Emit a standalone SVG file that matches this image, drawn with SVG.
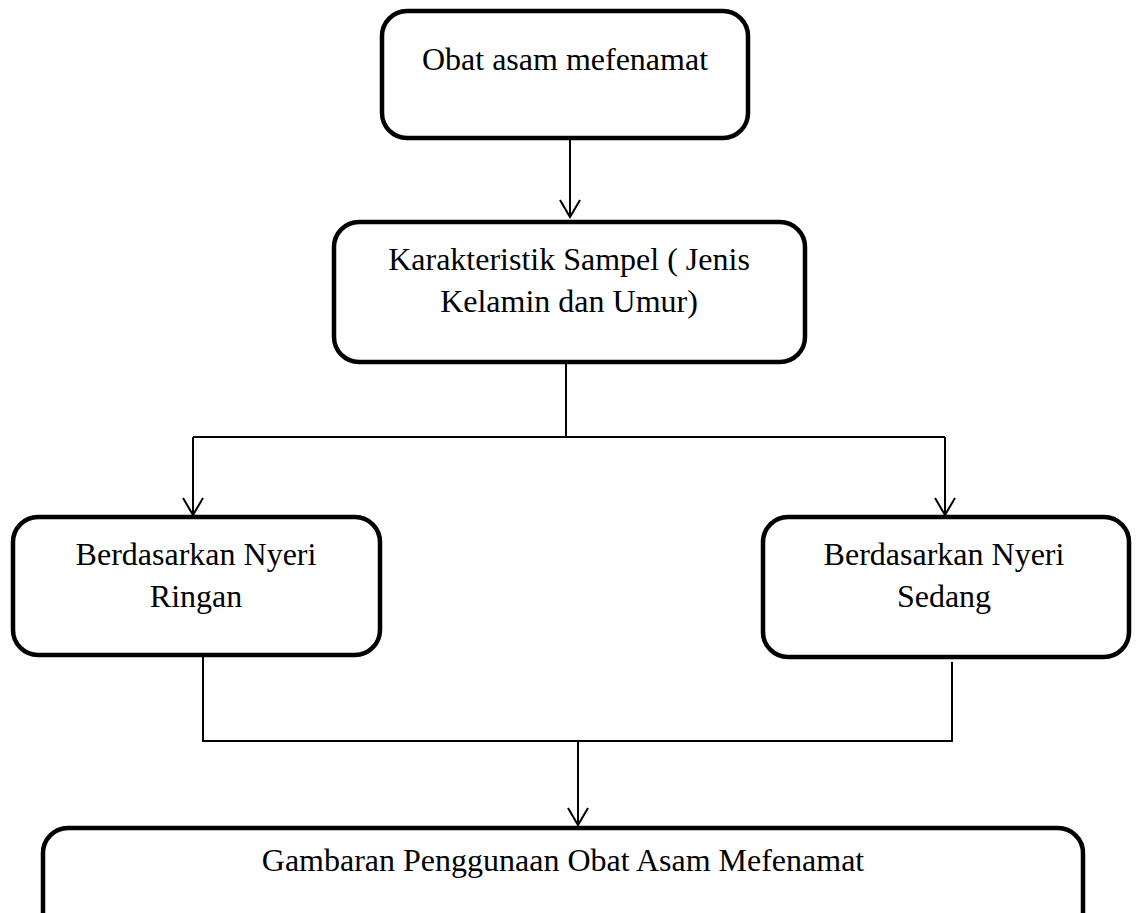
<svg xmlns="http://www.w3.org/2000/svg" width="1136" height="913" viewBox="0 0 1136 913">
<style>
.box{fill:#fff;stroke:#000;stroke-width:4.5}
.t{font-family:"Liberation Serif","Times New Roman",serif;font-size:32px;fill:#000;text-anchor:middle}
.c{fill:none;stroke:#000;stroke-width:2}
</style>
<defs>
<marker id="arr" markerUnits="userSpaceOnUse" markerWidth="24" markerHeight="24" refX="20" refY="10" orient="auto" viewBox="0 0 24 20">
<path d="M3,0 L20,10 L3,20" fill="none" stroke="#000" stroke-width="2"/>
</marker>
</defs>
<rect width="1136" height="913" fill="#fff"/>
<g id="connectors">
<path class="c" d="M570,139 V217" marker-end="url(#arr)"/>
<path class="c" d="M566,362 V437"/>
<path class="c" d="M193,437 H945"/>
<path class="c" d="M193,437 V515" marker-end="url(#arr)"/>
<path class="c" d="M945,437 V515" marker-end="url(#arr)"/>
<path class="c" d="M203,656 V741 H952 V662"/>
<path class="c" d="M578,741 V825" marker-end="url(#arr)"/>
</g>
<g id="n1">
<rect class="box" x="382" y="11" width="366" height="127" rx="25"/>
<text class="t" x="565" y="70">Obat asam mefenamat</text>
</g>
<g id="n2">
<rect class="box" x="334" y="222" width="471" height="140" rx="25"/>
<text class="t" x="569" y="270">Karakteristik Sampel ( Jenis</text>
<text class="t" x="569" y="312">Kelamin dan Umur)</text>
</g>
<g id="n3">
<rect class="box" x="13" y="517" width="367" height="138" rx="25"/>
<text class="t" x="196" y="565">Berdasarkan Nyeri</text>
<text class="t" x="196" y="607">Ringan</text>
</g>
<g id="n4">
<rect class="box" x="763" y="517" width="366" height="140" rx="25"/>
<text class="t" x="944" y="565">Berdasarkan Nyeri</text>
<text class="t" x="944" y="607">Sedang</text>
</g>
<g id="n5">
<rect class="box" x="43" y="828" width="1040" height="120" rx="25"/>
<text class="t" x="563" y="871">Gambaran Penggunaan Obat Asam Mefenamat</text>
</g>
</svg>
